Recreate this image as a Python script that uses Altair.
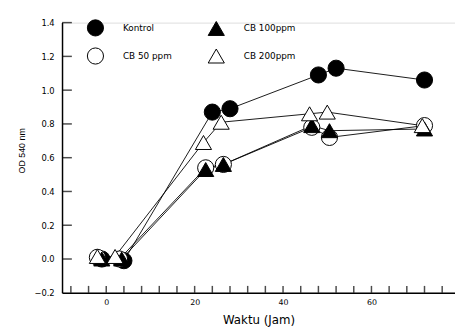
import altair as alt
import pandas as pd

series_names = ["Kontrol", "CB 50 ppm", "CB 100ppm", "CB 200ppm"]

kontrol_x = [-1, 4, 24, 28, 48, 52, 72]
kontrol_y = [0.0, -0.01, 0.87, 0.89, 1.09, 1.13, 1.06]

cb50_x = [-2, 3, 22.5, 26.5, 46.5, 50.5, 72]
cb50_y = [0.01, 0.0, 0.54, 0.56, 0.78, 0.72, 0.79]

cb100_x = [-1, 3.5, 22.5, 26.5, 46.5, 50.5, 72]
cb100_y = [0.0, 0.0, 0.53, 0.56, 0.79, 0.76, 0.77]

cb200_x = [-2, 2, 22, 26, 46, 50, 71.5]
cb200_y = [0.015, 0.015, 0.69, 0.81, 0.86, 0.87, 0.79]

x_tick_values = list(range(-8, 80, 4))
x_label_values = [0, 20, 40, 60, 80]
y_tick_values = [0.0, 0.2, 0.4, 0.6, 0.8, 1.0, 1.2, 1.4]
y_label_values = [-0.2, 0.0, 0.2, 0.4, 0.6, 0.8, 1.0, 1.2, 1.4]

rows = []
for name, xs, ys in [("Kontrol", kontrol_x, kontrol_y),
                     ("CB 50 ppm", cb50_x, cb50_y),
                     ("CB 100ppm", cb100_x, cb100_y),
                     ("CB 200ppm", cb200_x, cb200_y)]:
    for xv, yv in zip(xs, ys):
        rows.append({"series": name, "t": xv, "od": yv})
df = pd.DataFrame(rows)

xscale = alt.Scale(domain=[-10, 78.9], nice=False, zero=False)
yscale = alt.Scale(domain=[-0.2, 1.4], nice=False, zero=False)

legend = alt.Legend(
    title=None, orient="none", legendX=25, legendY=-4, columns=2,
    symbolSize=270, symbolStrokeWidth=1,
    symbolOpacity=1, labelFont="DejaVu Sans", labelFontSize=9,
    labelColor="black", labelOffset=19, rowPadding=7, columnPadding=34,
    padding=0,
)

x_axis = alt.Axis(
    values=x_label_values, ticks=False, grid=False, title="Waktu (Jam)",
    labelFont="DejaVu Sans", labelFontSize=8, labelColor="black",
    labelPadding=6, titleFont="DejaVu Sans", titleFontSize=12,
    titleFontWeight="normal", titleColor="black", titlePadding=8,
    domainColor="black", domainWidth=1.5, labelFlush=False,
    labelOverlap=False)
y_axis = alt.Axis(
    values=y_label_values, ticks=False, grid=False, title="OD 540 nm",
    format=".1f",
    labelFont="DejaVu Sans", labelFontSize=8.5, labelColor="black",
    labelPadding=8, titleFont="Liberation Sans", titleFontSize=9,
    titleFontWeight="normal", titleColor="black", titlePadding=8,
    titleY=130,
    domainColor="black", domainWidth=1.5, labelFlush=False,
    labelOverlap=False)

base = alt.Chart(df)

lines = base.mark_line(color="black", strokeWidth=0.9).encode(
    x=alt.X("t:Q", scale=xscale, axis=x_axis),
    y=alt.Y("od:Q", scale=yscale, axis=y_axis),
    detail="series:N")

points = base.mark_point(filled=False, strokeWidth=1,
                         size=270, opacity=1).encode(
    x=alt.X("t:Q", scale=xscale, axis=x_axis),
    y=alt.Y("od:Q", scale=yscale, axis=y_axis),
    shape=alt.Shape("series:N", scale=alt.Scale(
        domain=series_names,
        range=["circle", "circle", "triangle-up", "triangle-up"]), legend=legend),
    fill=alt.Fill("series:N", scale=alt.Scale(
        domain=series_names,
        range=["black", "white", "black", "white"]), legend=legend),
    stroke=alt.Stroke("series:N", scale=alt.Scale(
        domain=series_names,
        range=["black", "black", "black", "black"]), legend=legend),
)

xt_df = pd.DataFrame({"t": x_tick_values, "od": [-0.2] * len(x_tick_values)})
yt_df = pd.DataFrame({"od": y_tick_values, "t": [-10] * len(y_tick_values)})

xt = alt.Chart(xt_df).mark_tick(
    orient="vertical", size=7, thickness=1.5, color="black", yOffset=-3.5
).encode(x=alt.X("t:Q", scale=xscale, axis=x_axis),
         y=alt.Y("od:Q", scale=yscale, axis=y_axis))

yt = alt.Chart(yt_df).mark_tick(
    orient="horizontal", size=10, thickness=1.5, color="black", xOffset=5
).encode(y=alt.Y("od:Q", scale=yscale, axis=y_axis),
         x=alt.X("t:Q", scale=xscale, axis=x_axis))

chart = alt.layer(lines, points, xt, yt).properties(
    width=400, height=275,
    autosize=alt.AutoSizeParams(type="none"),
    padding={"left": 55, "top": 12, "right": 0, "bottom": 34},
).configure_view(stroke=None).configure(background="white")

chart.save("out.html", embed_options={"renderer": "svg", "actions": False})
